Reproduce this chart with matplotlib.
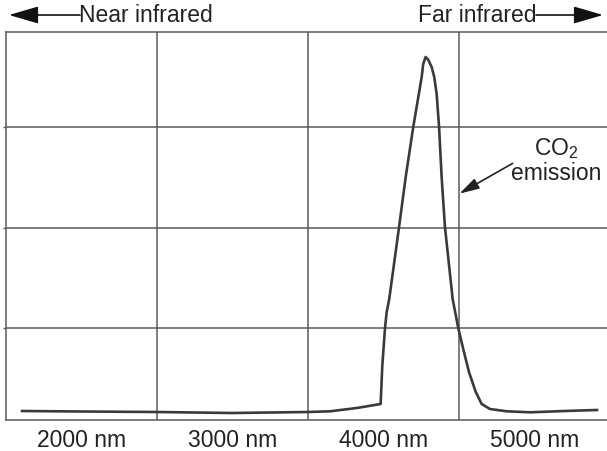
import matplotlib
matplotlib.use("Agg")
import matplotlib.pyplot as plt

plt.rcParams['font.family'] = ['Liberation Sans', 'DejaVu Sans']
plt.rcParams['mathtext.fontset'] = 'custom'
plt.rcParams['mathtext.rm'] = 'Liberation Sans'
plt.rcParams['mathtext.it'] = 'Liberation Sans'

# spectrum (wavelength in nm, relative intensity)
wavelength_nm = [1606, 2000, 2500, 2997, 3500, 3646, 3823, 3981, 3992, 4010,
                 4021, 4038, 4103, 4147, 4197, 4253, 4263, 4279, 4295, 4319,
                 4336, 4352, 4368, 4385, 4407, 4458, 4495, 4528, 4566, 4611,
                 4650, 4705, 4816, 4970, 5200, 5414]
intensity = [9, 8.5, 8, 7, 8, 8.7, 12, 16, 54, 92,
             108, 121, 193, 243, 293, 343, 356, 363, 360.5, 353,
             343, 326, 293, 243, 193, 121, 92, 71, 48, 28,
             16, 11, 8.7, 7.7, 9, 10]

tick_pos = [2000, 3000, 4000, 5000]
tick_labels = ['2000 nm', '3000 nm', '4000 nm', '5000 nm']
grid_x = [2500, 3500, 4500]
grid_y = [92, 192, 293]

line_col = '#3a3a3a'
grid_col = '#5a5a5a'
fs = 16.5

fig = plt.figure(figsize=(6.07, 4.52), dpi=100)
ax = fig.add_axes([6 / 607, 31 / 452, 604 / 607, 388 / 452])
ax.set_xlim(1500, 5500)
ax.set_ylim(0, 388)

ax.plot(wavelength_nm, intensity, color=line_col, lw=1.9, solid_joinstyle='round')

ax.set_xticks(tick_pos)
ax.set_xticklabels(tick_labels, fontsize=fs, color='#222222')
ax.set_xticks(grid_x, minor=True)
ax.set_yticks(grid_y)
ax.set_yticklabels([])
ax.tick_params(axis='x', which='both', length=0, pad=6)
ax.tick_params(axis='y', length=2, width=1, color=grid_col)
ax.grid(True, which='minor', axis='x', color=grid_col, lw=1.1)
ax.grid(True, which='major', axis='y', color=grid_col, lw=1.1)
for side in ['left', 'top', 'bottom', 'right']:
    ax.spines[side].set_color(grid_col)
    ax.spines[side].set_linewidth(1.1)

# CO2 label with pointer
ax.annotate('', xy=(4487, 225), xytext=(4871, 258),
            arrowprops=dict(arrowstyle='-|>,head_length=1.0,head_width=0.28',
                            mutation_scale=12, color='#222222', lw=1.2))
ax.text(5142, 272, 'CO$_2$', fontsize=fs, ha='center', va='center', color='#222222')
ax.text(5142, 247, 'emission', fontsize=fs, ha='center', va='center', color='#222222')

# top band labels with arrows
fig.text(79 / 607, 1 - 16 / 452, 'Near infrared', fontsize=fs, ha='left', va='center',
         color='#222222')
fig.text(537 / 607, 1 - 16 / 452, 'Far infrared', fontsize=fs, ha='right', va='center',
         color='#222222')
head = '-|>,head_length=1.3,head_width=0.38'
ax.annotate('', xy=(9, 452 - 16), xytext=(80, 452 - 16), xycoords='figure pixels',
            textcoords='figure pixels',
            arrowprops=dict(arrowstyle=head, mutation_scale=14, color='#111111',
                            lw=1.2, shrinkA=0, shrinkB=0), annotation_clip=False)
ax.annotate('', xy=(603, 452 - 16), xytext=(536, 452 - 16), xycoords='figure pixels',
            textcoords='figure pixels',
            arrowprops=dict(arrowstyle=head, mutation_scale=14, color='#111111',
                            lw=1.2, shrinkA=0, shrinkB=0), annotation_clip=False)

fig.savefig('out.png', dpi=100)
